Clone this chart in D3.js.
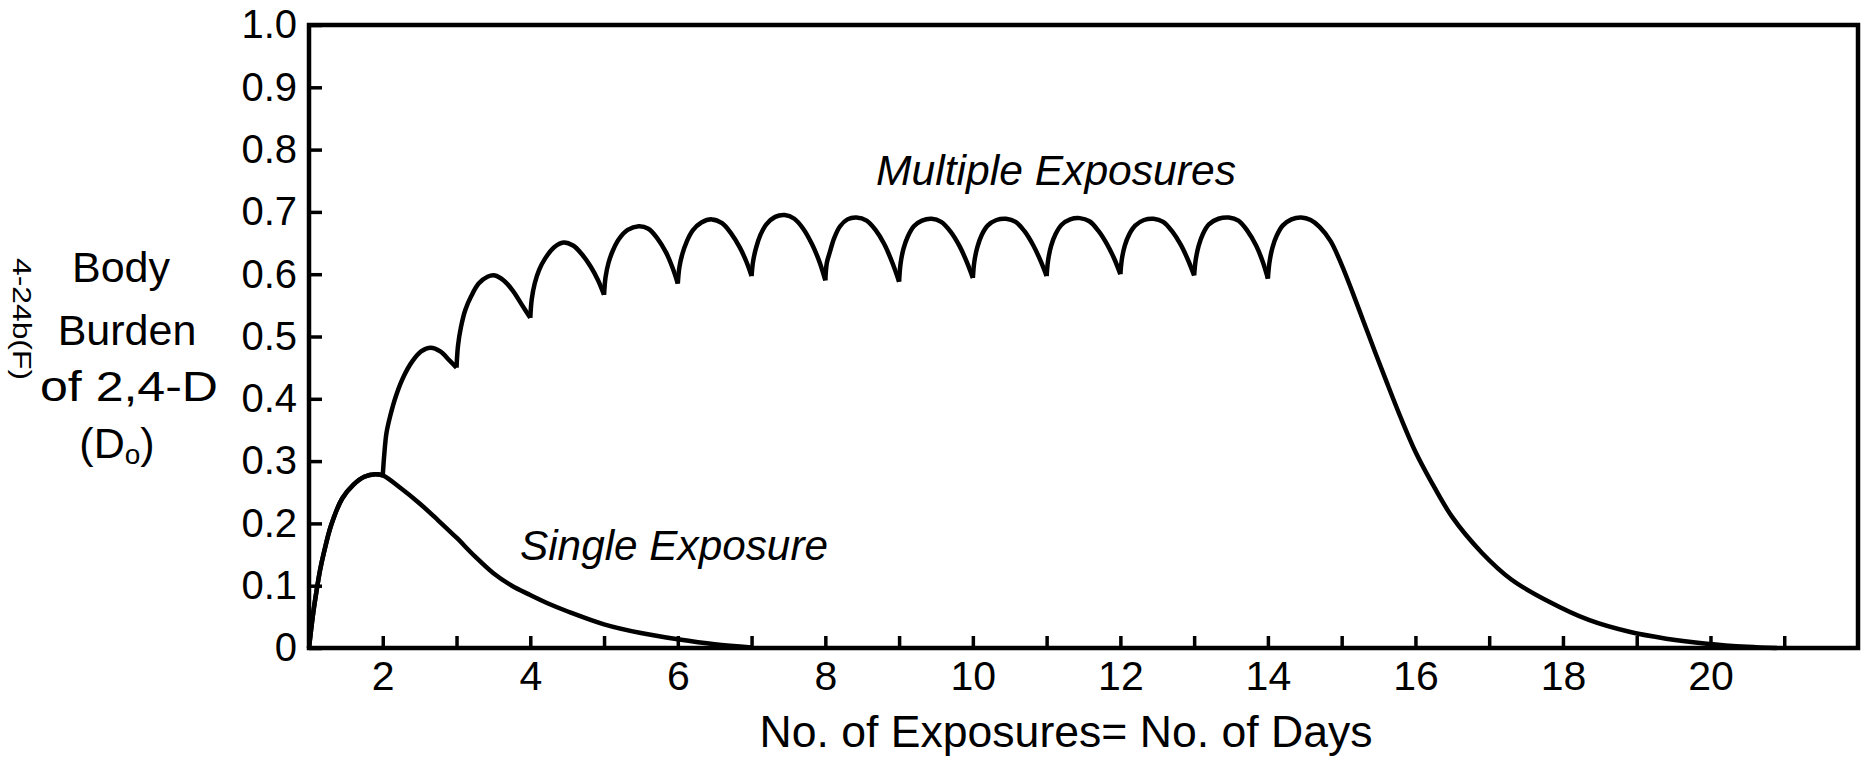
<!DOCTYPE html>
<html>
<head>
<meta charset="utf-8">
<script src="https://cdn.jsdelivr.net/npm/d3@7"></script>
<style>
body { margin: 0; background: #fff; }
text { font-family: "Liberation Sans", Arial, sans-serif; fill: #000; }
</style>
</head>
<body>
<div id="chart"></div>
<script>
// --- data ---

// single exposure (day -> body burden, fraction of D0)
const singleDays   = [1.0, 1.05, 1.1, 1.15, 1.2, 1.3, 1.45, 1.6, 1.75, 1.9, 2.0, 2.25, 2.5, 2.75, 3.0, 3.25, 3.5, 3.75, 4.0, 4.25, 4.5, 5.0, 5.5, 6.0, 6.5, 7.0];
const singleBurden = [0, 0.05, 0.09, 0.125, 0.152, 0.197, 0.24, 0.262, 0.275, 0.279, 0.277, 0.256, 0.232, 0.205, 0.177, 0.147, 0.12, 0.1, 0.085, 0.071, 0.059, 0.038, 0.024, 0.014, 0.006, 0.001];

// multiple exposures, one exposure per day on days 1..14
const exposureDays = [2, 3, 4, 5, 6, 7, 8, 9, 10, 11, 12, 13, 14];
const multipleDays = [
  1.0, 1.05, 1.1, 1.15, 1.2, 1.3, 1.45, 1.6, 1.75, 1.9, 2.0,
  2.02, 2.05, 2.1, 2.18, 2.28, 2.4, 2.52, 2.65, 2.78, 2.9, 3.0,
  3.02, 3.06, 3.12, 3.2, 3.3, 3.42, 3.52, 3.64, 3.76, 3.88, 4.0,
  4.02, 4.06, 4.12, 4.2, 4.32, 4.45, 4.58, 4.7, 4.82, 4.92, 5.0,
  5.02, 5.06, 5.12, 5.2, 5.32, 5.47, 5.6, 5.72, 5.84, 5.93, 6.0,
  6.02, 6.06, 6.12, 6.2, 6.32, 6.46, 6.6, 6.72, 6.84, 6.93, 7.0,
  7.02, 7.06, 7.12, 7.2, 7.32, 7.45, 7.58, 7.7, 7.82, 7.92, 8.0,
  8.02, 8.06, 8.12, 8.2, 8.3, 8.42, 8.56, 8.68, 8.8, 8.91, 9.0,
  9.02, 9.06, 9.12, 9.2, 9.31, 9.44, 9.57, 9.7, 9.82, 9.92, 10.0,
  10.02, 10.06, 10.12, 10.2, 10.32, 10.45, 10.58, 10.7, 10.82, 10.92, 11.0,
  11.02, 11.06, 11.12, 11.2, 11.32, 11.45, 11.58, 11.7, 11.82, 11.92, 12.0,
  12.02, 12.06, 12.12, 12.2, 12.32, 12.45, 12.58, 12.7, 12.82, 12.92, 13.0,
  13.02, 13.06, 13.12, 13.2, 13.33, 13.47, 13.6, 13.72, 13.84, 13.93, 14.0,
  14.02, 14.06, 14.12, 14.2, 14.32, 14.45, 14.58, 14.7, 14.85, 15.0, 15.15, 15.3, 15.45, 15.6,
  15.8, 16.0, 16.2, 16.5, 16.9, 17.3, 17.8, 18.35, 18.9, 19.4, 19.95, 20.5, 20.9
];
const multipleBurden = [
  0, 0.05, 0.09, 0.125, 0.152, 0.197, 0.24, 0.262, 0.275, 0.279, 0.277,
  0.31, 0.345, 0.372, 0.405, 0.435, 0.46, 0.476, 0.482, 0.476, 0.462, 0.45,
  0.485, 0.515, 0.543, 0.565, 0.585, 0.596, 0.598, 0.59, 0.574, 0.552, 0.53,
  0.56, 0.585, 0.607, 0.625, 0.643, 0.651, 0.646, 0.632, 0.612, 0.59, 0.567,
  0.595, 0.618, 0.638, 0.656, 0.671, 0.677, 0.673, 0.658, 0.635, 0.61, 0.585,
  0.61, 0.632, 0.652, 0.67, 0.683, 0.688, 0.682, 0.666, 0.643, 0.62, 0.597,
  0.62, 0.642, 0.663, 0.68, 0.692, 0.695, 0.689, 0.673, 0.648, 0.62, 0.59,
  0.618, 0.635, 0.658, 0.677, 0.688, 0.691, 0.686, 0.671, 0.648, 0.618, 0.588,
  0.617, 0.641, 0.661, 0.677, 0.686, 0.689, 0.684, 0.668, 0.645, 0.619, 0.594,
  0.62, 0.643, 0.663, 0.678, 0.687, 0.689, 0.684, 0.669, 0.646, 0.621, 0.597,
  0.622, 0.645, 0.664, 0.679, 0.688, 0.69, 0.685, 0.67, 0.648, 0.624, 0.6,
  0.624, 0.646, 0.664, 0.678, 0.687, 0.689, 0.684, 0.669, 0.647, 0.622, 0.598,
  0.622, 0.645, 0.665, 0.68, 0.689, 0.691, 0.686, 0.67, 0.646, 0.62, 0.593,
  0.618, 0.642, 0.662, 0.678, 0.688, 0.691, 0.687, 0.676, 0.653, 0.615, 0.57, 0.523, 0.476, 0.43,
  0.37, 0.315, 0.27, 0.21, 0.153, 0.11, 0.075, 0.045, 0.026, 0.015, 0.007, 0.002, 0
];

// axis ticks
const yTickValues = [0, 0.1, 0.2, 0.3, 0.4, 0.5, 0.6, 0.7, 0.8, 0.9, 1.0];
const yTickLabels = ["0", "0.1", "0.2", "0.3", "0.4", "0.5", "0.6", "0.7", "0.8", "0.9", "1.0"];
const xTickValues = [2, 3, 4, 5, 6, 7, 8, 9, 10, 11, 12, 13, 14, 15, 16, 17, 18, 19, 20, 21];
const xTickLabels = ["2", "", "4", "", "6", "", "8", "", "10", "", "12", "", "14", "", "16", "", "18", "", "20", ""];

// --- --- --- --- --- --- --- --- --- --- ---

const width = 1876, height = 771;

let svg = d3.select("#chart")
    .append("svg")
    .attr("width", width)
    .attr("height", height);

svg.append("rect").attr("width", width).attr("height", height).attr("fill", "#fff");

let x = d3.scaleLinear().domain([1, 22]).range([309, 1858]);
let y = d3.scaleLinear().domain([0, 1]).range([648, 25]);

// y axis, ticks pointing into the plot
let yAxis = svg.append("g")
    .attr("transform", "translate(" + x(1) + ",0)")
    .call(d3.axisLeft(y)
        .tickValues(yTickValues)
        .tickFormat((d, i) => yTickLabels[i])
        .tickSizeInner(-13)
        .tickSizeOuter(0)
        .tickPadding(12));
yAxis.select(".domain").remove();
yAxis.selectAll("line").attr("stroke", "#000").attr("stroke-width", 3.5);
yAxis.selectAll("text").attr("font-size", 40).attr("font-family", "Liberation Sans, Arial, sans-serif");

// x axis, ticks pointing up
let xAxis = svg.append("g")
    .attr("transform", "translate(0," + y(0) + ")")
    .call(d3.axisBottom(x)
        .tickValues(xTickValues)
        .tickFormat((d, i) => xTickLabels[i])
        .tickSizeInner(-12)
        .tickSizeOuter(0)
        .tickPadding(13));
xAxis.select(".domain").remove();
xAxis.selectAll("line").attr("stroke", "#000").attr("stroke-width", 3.5);
xAxis.selectAll("text").attr("font-size", 41).attr("font-family", "Liberation Sans, Arial, sans-serif");

// frame
svg.append("rect")
    .attr("x", x(1))
    .attr("y", y(1))
    .attr("width", x(22) - x(1))
    .attr("height", y(0) - y(1))
    .attr("fill", "none")
    .attr("stroke", "#000")
    .attr("stroke-width", 4.5);

// curves
let line = d3.line()
    .x(d => x(d.day))
    .y(d => y(d.v))
    .curve(d3.curveCatmullRom.alpha(0.5));

let single = singleDays.map((d, i) => ({day: d, v: singleBurden[i]}));
svg.append("path")
    .datum(single)
    .attr("d", line)
    .attr("fill", "none")
    .attr("stroke", "#000")
    .attr("stroke-width", 4.5);

// split multiple exposures at each new dose so the cusps stay sharp
let multiple = multipleDays.map((d, i) => ({day: d, v: multipleBurden[i]}));
let segments = [[]];
multiple.forEach(p => {
  segments[segments.length - 1].push(p);
  if (exposureDays.includes(p.day)) segments.push([p]);
});

svg.selectAll(".multi")
    .data(segments.filter(s => s.length > 1))
    .enter()
    .append("path")
    .attr("class", "multi")
    .attr("d", line)
    .attr("fill", "none")
    .attr("stroke", "#000")
    .attr("stroke-width", 4.5)
    .attr("stroke-linejoin", "round");

// labels
svg.append("text")
    .attr("x", 876).attr("y", 185)
    .attr("font-size", 42)
    .attr("font-style", "italic")
    .attr("textLength", 360)
    .attr("lengthAdjust", "spacingAndGlyphs")
    .text("Multiple Exposures");

svg.append("text")
    .attr("x", 520).attr("y", 560)
    .attr("font-size", 43)
    .attr("font-style", "italic")
    .attr("textLength", 308)
    .attr("lengthAdjust", "spacingAndGlyphs")
    .text("Single Exposure");

svg.append("text")
    .attr("x", 1066).attr("y", 747)
    .attr("font-size", 44)
    .attr("text-anchor", "middle")
    .attr("textLength", 613)
    .attr("lengthAdjust", "spacingAndGlyphs")
    .text("No. of Exposures= No. of Days");

// y title, four lines
let yTitle = svg.append("g").attr("font-size", 43).attr("text-anchor", "middle");
yTitle.append("text").attr("x", 121).attr("y", 282).text("Body");
yTitle.append("text").attr("x", 127).attr("y", 345).text("Burden");
yTitle.append("text").attr("x", 129).attr("y", 401).attr("textLength", 178).attr("lengthAdjust", "spacingAndGlyphs").text("of 2,4-D");
let d0 = yTitle.append("text").attr("x", 117).attr("y", 458);
d0.append("tspan").text("(D");
d0.append("tspan").attr("font-size", 28).attr("dy", 6).text("o");
d0.append("tspan").attr("dy", -6).text(")");

// figure id, running down the left margin
svg.append("text")
    .attr("transform", "translate(13,258) rotate(90)")
    .attr("font-size", 26)
    .attr("textLength", 122)
    .attr("lengthAdjust", "spacingAndGlyphs")
    .text("4-24b(F)");
</script>
</body>
</html>
